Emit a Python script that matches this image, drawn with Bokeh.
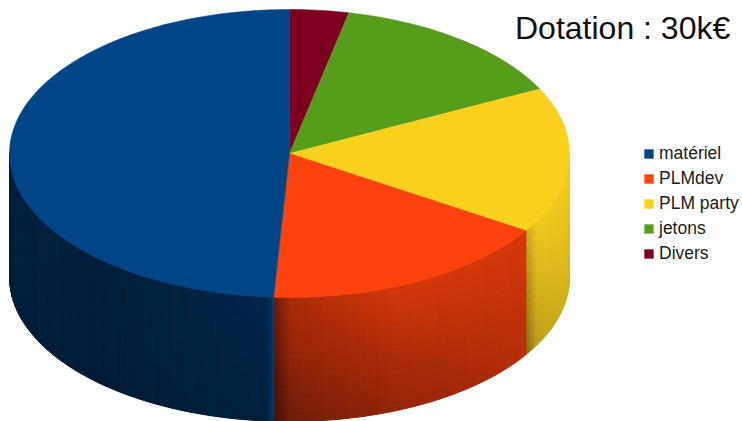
import numpy as np
from bokeh.plotting import figure
from bokeh.models import Legend, LegendItem, Range1d, Label
from bokeh.embed import file_html
from bokeh.resources import INLINE

# ---- data, clockwise from 12 o'clock ----
labels = ["Divers", "jetons", "PLM party", "PLMdev", "matériel"]
values = [3.4, 14.2, 16.4, 16.9, 49.1]
colors = ["#7e0021", "#579d1c", "#fbd120", "#ff420e", "#004586"]
legend_order = ["matériel", "PLMdev", "PLM party", "jetons", "Divers"]
title_text = "Dotation : 30k€"

# ---- geometry of the disc, in picture pixels ----
CX, CY, RX, RY, DEPTH = 289.0, 153.0, 280.0, 144.0, 124.0
W, H = 742, 421

p = figure(width=W, height=H, output_backend="svg", toolbar_location=None,
           x_range=Range1d(0, W), y_range=Range1d(H, 0),
           min_border=0, outline_line_color=None, background_fill_color="white",
           border_fill_color="white")
p.axis.visible = False
p.grid.visible = False


def ex(a):
    return CX + RX * np.sin(a)


def ey(a):
    return CY - RY * np.cos(a)


def mix(a, b, t):
    return a + (b - a) * t


def hexrgb(h):
    return np.array([int(h[i:i + 2], 16) for i in (1, 3, 5)], float)


def shade(name, x, t):
    if name == "PLMdev":
        u = (x - 274) / 252.0
        top = 0.66 + 0.18 * min(1, u / 0.5)
        bot = 0.42 + 0.30 * u
        return mix(top, bot, t) * (0.66 + 0.34 * min(1, max(0, x - 274) / 16.0))
    if name == "PLM party":
        u = (x - 526) / 43.0
        top = mix(0.96, 0.98, u)
        bot = mix(0.74, 0.85, u)
        seam = mix(0.86, 0.72, t)
        return mix(top, bot, t) * (seam + (1 - seam) * min(1, max(0, x - 526) / 10.0))
    u = (x - 9) / 265.0
    top = 0.46 - 0.04 * min(1, u / 0.35) + 0.16 * max(0, (u - 0.35) / 0.65)
    bot = 0.43 - 0.03 * min(1, u / 0.35) + 0.05 * max(0, (u - 0.35) / 0.65)
    s = mix(top, bot, t)
    edge = max(0.0, (x - 263) / 11.0) ** 2
    return mix(s, 1.0, min(1, edge))


def wall_angles(a0, a1):
    out = [a0]
    fine = np.linspace(a0, a1, int(np.degrees(a1 - a0) * 20) + 2)
    for a in fine[1:-1]:
        if abs(ex(a) - ex(out[-1])) >= 2.0 or a - out[-1] >= np.radians(2.0):
            out.append(a)
    out.append(a1)
    return out


cum = np.concatenate([[0], np.cumsum(values)]) / sum(values) * 2 * np.pi

# side walls, shaded as strips
ROWS = 14
for i, name in enumerate(labels):
    a0, a1 = max(cum[i], np.pi / 2), min(cum[i + 1], 3 * np.pi / 2)
    if a1 <= a0:
        continue
    xs, ys, cs = [], [], []
    base = hexrgb(colors[i])
    ang = wall_angles(a0, a1)
    for c in range(len(ang) - 1):
        xa, xb = ex(ang[c]), ex(ang[c + 1])
        ya, yb = ey(ang[c]), ey(ang[c + 1])
        for r in range(ROWS):
            t0, t1 = r / ROWS, (r + 1) / ROWS
            xs.append([xa, xb, xb, xa])
            ys.append([ya + DEPTH * t0, yb + DEPTH * t0, yb + DEPTH * t1, ya + DEPTH * t1])
            col = np.clip(base * shade(name, (xa + xb) / 2, (t0 + t1) / 2), 0, 255).astype(int)
            cs.append("#%02x%02x%02x" % tuple(col))
    p.patches(xs, ys, fill_color=cs, line_color=cs, line_width=1.0)

# top faces
rend = {}
for i, name in enumerate(labels):
    ang = np.linspace(cum[i], cum[i + 1], max(3, int(np.degrees(cum[i + 1] - cum[i]))))
    rend[name] = p.patch(np.r_[CX, ex(ang)], np.r_[CY, ey(ang)],
                         fill_color=colors[i], line_color=colors[i], line_width=0.5)

legend = Legend(items=[LegendItem(label=n, renderers=[rend[n]]) for n in legend_order],
                location=(643, 157), border_line_color=None, background_fill_alpha=0,
                glyph_width=11, glyph_height=11, label_standoff=5, spacing=4,
                label_height=20, margin=0, padding=0,
                label_text_font="Liberation Sans", label_text_font_size="17.5px",
                label_text_color="#1a1a1a")
p.add_layout(legend)

p.add_layout(Label(x=514.5, y=27, text=title_text, text_font="Liberation Sans",
                   text_font_size="32px", text_color="#111111", text_baseline="alphabetic"))

open("out.html", "w").write(file_html(p, INLINE))
